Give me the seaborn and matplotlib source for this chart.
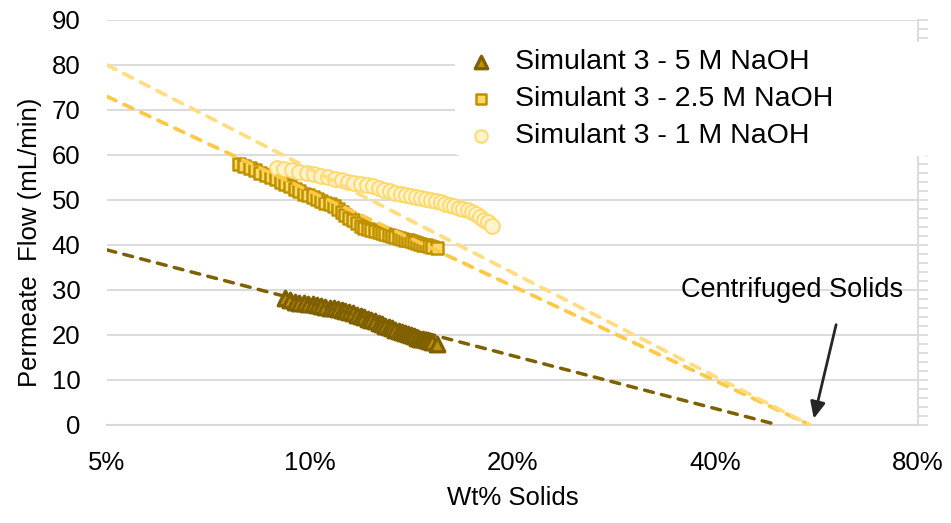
import numpy as np
import pandas as pd
import matplotlib
matplotlib.use("Agg")
import matplotlib.pyplot as plt
import seaborn as sns
from matplotlib.ticker import FixedLocator, MultipleLocator, NullLocator

# data (x = wt fraction solids, y = permeate flow mL/min)
five_x = [0.092, 0.0935, 0.095, 0.0965, 0.098, 0.0995, 0.101, 0.1025, 0.104, 0.1055,
          0.107, 0.1085, 0.110, 0.1115, 0.113, 0.1145, 0.116, 0.1175, 0.119, 0.1205,
          0.122, 0.1235, 0.125, 0.1265, 0.128, 0.1295, 0.131, 0.1325, 0.134, 0.1355,
          0.137, 0.1385, 0.140, 0.1415, 0.143, 0.1445, 0.146, 0.1475, 0.149, 0.1505,
          0.152, 0.1545]
five_y = [28.2, 27.7, 27.4, 27.2, 27.0, 26.9, 26.8, 26.7, 26.5, 26.3,
          26.1, 25.9, 25.7, 25.5, 25.3, 25.1, 24.8, 24.5, 24.2, 23.9,
          23.6, 23.3, 23.0, 22.7, 22.4, 22.1, 21.8, 21.5, 21.2, 20.9,
          20.7, 20.4, 20.2, 19.9, 19.7, 19.4, 19.2, 19.0, 18.8, 18.6,
          18.4, 18.1]

half_x = [0.0785, 0.080, 0.0815, 0.083, 0.0845, 0.086, 0.0875, 0.089, 0.0905, 0.092,
          0.0935, 0.095, 0.0965, 0.098, 0.0995, 0.101, 0.1025, 0.104, 0.1055, 0.107,
          0.1085, 0.110, 0.1115, 0.113, 0.1145, 0.116, 0.1175, 0.119, 0.1205, 0.122,
          0.1235, 0.125, 0.1265, 0.128, 0.1295, 0.131, 0.1325, 0.134, 0.1355, 0.137,
          0.1385, 0.140, 0.1415, 0.143, 0.1445, 0.146, 0.1475, 0.149, 0.1505, 0.152,
          0.1545]
half_y = [58.0, 57.6, 57.1, 56.6, 56.1, 55.6, 55.1, 54.6, 54.1, 53.6,
          53.0, 52.5, 51.9, 51.4, 51.0, 50.6, 50.2, 49.8, 49.4, 49.0,
          48.6, 48.0, 47.4, 46.7, 46.1, 45.5, 44.9, 44.3, 43.8, 43.5,
          43.3, 43.1, 42.8, 42.6, 42.4, 42.2, 42.0, 41.8, 41.6, 41.4,
          41.2, 41.1, 40.9, 40.7, 40.5, 40.3, 40.1, 39.9, 39.7, 39.6,
          39.3]

one_x = [0.0894, 0.0915, 0.094, 0.0965, 0.099, 0.1015, 0.104, 0.1065, 0.109, 0.1115,
         0.114, 0.1165, 0.119, 0.1215, 0.124, 0.1265, 0.129, 0.1315, 0.134, 0.1365,
         0.139, 0.1415, 0.144, 0.1465, 0.149, 0.1515, 0.154, 0.1565, 0.159, 0.1615,
         0.164, 0.1665, 0.169, 0.1715, 0.174, 0.1765, 0.179, 0.1815, 0.184, 0.1865]
one_y = [57.2, 56.9, 56.6, 56.3, 56.0, 55.7, 55.3, 55.0, 54.7, 54.4,
         54.1, 53.8, 53.5, 53.3, 53.0, 52.7, 52.3, 52.0, 51.6, 51.3,
         51.0, 50.8, 50.6, 50.4, 50.2, 50.0, 49.8, 49.5, 49.2, 48.9,
         48.6, 48.3, 48.0, 47.7, 47.3, 46.8, 46.2, 45.6, 45.0, 44.3]

# log trendlines (straight on the log axis): end points
five_trend_x = [0.05, 0.496]
five_trend_y = [38.9, 0.0]
half_trend_x = [0.05, 0.553]
half_trend_y = [73.0, 0.0]
one_trend_x = [0.05, 0.553]
one_trend_y = [80.0, 0.0]

x_ticks = [0.05, 0.1, 0.2, 0.4, 0.8]
x_tick_labels = ["5%", "10%", "20%", "40%", "80%"]

labels = ["Simulant 3 - 5 M NaOH", "Simulant 3 - 2.5 M NaOH", "Simulant 3 - 1 M NaOH"]

sns.set_style("white")
plt.rcParams['font.family'] = ['Liberation Sans', 'DejaVu Sans']
plt.rcParams['text.color'] = 'black'
plt.rcParams['axes.labelcolor'] = 'black'

fig = plt.figure(figsize=(9.51, 5.23), dpi=100)
ax = fig.add_axes([0.1125, 0.1874, 0.8528, 0.7744])
ax.set_xscale("log")

grid_c = "#d9d9d9"

# series (Excel order: 5 M, 2.5 M, 1 M on top)
sns.scatterplot(x=five_x, y=five_y, marker="^", s=110, color="#bf9000",
                edgecolor="#7f6000", linewidth=2.4, ax=ax, zorder=3, label=labels[0])
sns.scatterplot(x=half_x, y=half_y, marker="s", s=85, color="#ffd966",
                edgecolor="#bf9000", linewidth=1.8, ax=ax, zorder=4, label=labels[1])
sns.scatterplot(x=one_x, y=one_y, marker="o", s=115, color="#fff2cc",
                edgecolor="#ffd966", linewidth=1.3, ax=ax, zorder=5, label=labels[2])

# trendlines
for tx, ty, c, w in [(five_trend_x, five_trend_y, "#7f6000", 2.5),
                     (half_trend_x, half_trend_y, "#ffc845", 2.7),
                     (one_trend_x, one_trend_y, "#ffdd80", 2.7)]:
    ln = sns.lineplot(x=tx, y=ty, color=c, linewidth=w, ax=ax, zorder=6,
                      legend=False)
    ln.lines[-1].set_dashes((2.6, 2.4))
    ln.lines[-1].set_dash_capstyle("round")

ax.set_xlim(0.05, 0.8)
ax.set_ylim(0, 90)
ax.xaxis.set_major_locator(FixedLocator(x_ticks))
ax.xaxis.set_minor_locator(NullLocator())
ax.set_xticklabels(x_tick_labels)
ax.yaxis.set_major_locator(MultipleLocator(10))
ax.yaxis.set_minor_locator(MultipleLocator(2))

ax.grid(axis="y", color=grid_c, linewidth=1.3, zorder=0)
ax.set_axisbelow(True)
for side in ["top", "left"]:
    ax.spines[side].set_visible(False)
ax.spines["bottom"].set_color(grid_c)
ax.spines["bottom"].set_linewidth(1.5)
ax.spines["right"].set_color(grid_c)
ax.spines["right"].set_linewidth(1.3)

ax.tick_params(axis="x", which="major", direction="in", length=7, width=1.3,
               color=grid_c, labelsize=18.5, pad=19, labelcolor="black")
ax.tick_params(axis="y", which="both", left=False, right=True, labelleft=True,
               labelright=False, direction="out", length=7, width=1.2,
               color=grid_c, labelsize=18.5, pad=12, labelcolor="black")

ax.set_xlabel("Wt% Solids", fontsize=18.5, labelpad=8)
ax.set_ylabel("Permeate  Flow (mL/min)", fontsize=18.5)
ax.yaxis.set_label_coords(-0.080, 0.452)

leg = ax.legend(loc="upper left", bbox_to_anchor=(0.412, 0.97, 0.62, 0.01),
                mode="expand", fontsize=20.5, frameon=True, framealpha=1,
                edgecolor="none", facecolor="white", handletextpad=0.55,
                labelspacing=0.38, borderpad=0.25, handlelength=1.3,
                markerscale=0.85)
leg.set_zorder(7)

# annotation
ax.text(0.52, 30.0, "Centrifuged Solids", fontsize=19.5, ha="center", va="center")
ax.annotate("", xy=(0.559, 0.8), xytext=(0.606, 22.9),
            arrowprops=dict(arrowstyle="-|>,head_length=1.0,head_width=0.45",
                            color="#262626", lw=2))

fig.savefig("out.png", dpi=100)
